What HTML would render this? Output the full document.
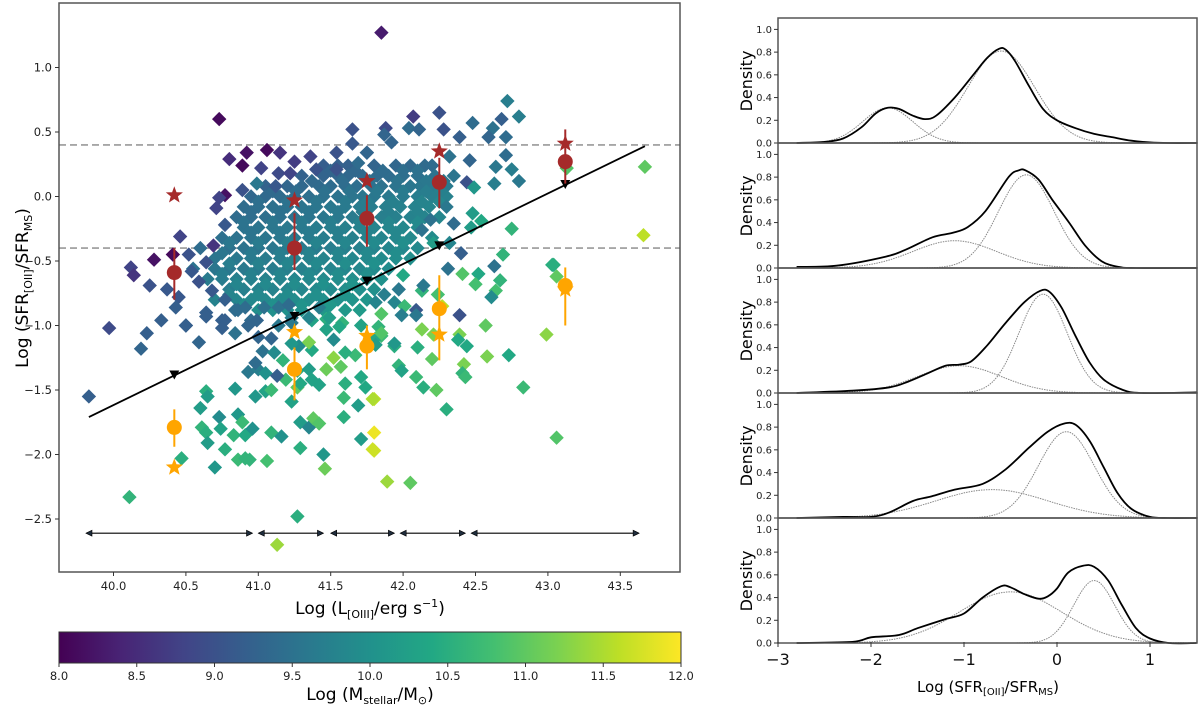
<!DOCTYPE html>
<html><head><meta charset="utf-8"><style>
html,body{margin:0;padding:0;background:#fff;}
svg{display:block;font-family:"DejaVu Sans","Liberation Sans",sans-serif;}
</style></head><body>
<svg id="fig" width="1200" height="705" viewBox="0 0 1200 705" xmlns="http://www.w3.org/2000/svg">
<defs>
<linearGradient id="viridis" x1="0" x2="1" y1="0" y2="0">
<stop offset="0" stop-color="#440154"/><stop offset="0.1" stop-color="#482475"/><stop offset="0.2" stop-color="#414487"/><stop offset="0.3" stop-color="#355f8d"/><stop offset="0.4" stop-color="#2a788e"/><stop offset="0.5" stop-color="#21918c"/><stop offset="0.6" stop-color="#22a884"/><stop offset="0.7" stop-color="#44bf70"/><stop offset="0.8" stop-color="#7ad151"/><stop offset="0.9" stop-color="#bddf26"/><stop offset="1" stop-color="#fde725"/>
</linearGradient>
<clipPath id="mainclip"><rect x="59" y="3" width="621" height="569"/></clipPath>
</defs>
<g id="main"></g>
<g id="right"></g>
</svg>
<script>
// ---------- main scatter data ----------
const scatterPoints = [
[40.73,0.60,8.1],[41.65,0.52,9.0],[40.92,0.34,8.2],[41.06,0.36,8.1],[41.15,0.34,8.6],[40.80,0.29,8.5],[40.89,0.24,8.1],[41.02,0.22,8.8],[41.25,0.27,8.7],[41.36,0.31,8.8],[41.54,0.34,9.0],[41.65,0.41,9.1],[41.75,0.34,9.1],[41.14,0.18,8.9],[41.22,0.18,8.8],[41.40,0.21,9.0],[41.54,0.21,9.0],[41.69,0.26,9.4],[40.99,0.10,9.6],[41.12,0.08,9.1],[40.77,0.01,8.2],[40.73,-0.01,8.8],[40.71,-0.09,8.8],[40.89,0.05,9.0],[40.77,-0.22,9.1],[40.46,-0.31,8.8],[40.41,-0.45,8.1],[40.28,-0.49,8.2],[40.12,-0.55,8.8],[40.14,-0.61,8.6],[40.25,-0.69,9.0],[40.37,-0.72,9.1],[40.54,-0.58,9.1],[40.45,-0.78,9.1],[40.43,-0.86,9.2],[40.33,-0.96,9.2],[39.97,-1.02,8.9],[40.69,-0.38,8.6],[40.64,-0.51,9.0],[40.52,-0.45,9.0],[40.59,-0.66,9.0],[40.68,-0.73,9.1],[40.77,-0.80,9.2],[40.64,-0.90,9.2],[40.75,-0.96,9.2],[40.84,-0.88,9.4],[40.95,-0.96,9.4],[41.37,-0.96,10.3],[41.47,-0.95,10.5],[41.58,-0.98,10.6],[41.23,-0.94,9.7],
[39.83,-1.55,9.2],[40.23,-1.06,9.2],[40.19,-1.18,9.3],[40.50,-1.00,9.2],[40.59,-1.13,9.3],[40.64,-0.93,9.2],
[41.85,1.27,8.3],
[42.72,0.74,9.7],[42.80,0.62,9.7],[42.68,0.60,9.2],[42.25,0.65,9.0],[42.07,0.62,8.7],[42.48,0.57,9.4],[42.62,0.53,9.5],[42.04,0.53,9.4],[41.88,0.53,8.9],[42.28,0.52,9.0],[41.87,0.48,9.3],[42.11,0.52,9.3],[41.92,0.42,9.3],[42.39,0.46,9.2],[42.59,0.46,9.3],[42.71,0.46,9.4],[41.75,0.34,9.3],[42.71,0.32,9.4],[42.32,0.31,9.5],[42.46,0.28,9.3],[42.64,0.23,9.6],[42.75,0.21,9.7],[42.80,0.12,9.6],[42.63,0.10,9.7],[42.44,0.11,9.0],[42.49,0.07,10.1],[43.13,0.22,10.9],[43.67,0.23,11.0],[43.66,-0.30,11.6],[42.75,-0.25,10.6],[42.48,-0.13,10.2],[42.54,-0.19,10.4],[42.35,-0.21,9.4],[42.47,-0.24,10.2],[42.69,-0.45,10.6],[43.03,-0.53,10.5],[42.40,-0.44,9.2],[42.21,-0.36,10.2],[42.32,-0.36,9.8],[42.30,-0.08,9.6],[42.19,-0.18,9.5],[42.13,-0.26,9.5],
[43.04,-0.53,10.5],[43.06,-0.62,11.0],[42.41,-0.60,10.9],[42.52,-0.60,10.4],[42.50,-0.68,10.8],[42.63,-0.54,9.5],[42.67,-0.65,10.6],[42.64,-0.73,10.8],[42.61,-0.78,9.9],[42.31,-0.56,9.5],[42.00,-0.61,10.4],[41.97,-0.72,9.6],[42.13,-0.73,10.6],[42.14,-0.69,9.6],[42.24,-0.76,10.8],[41.87,-0.76,9.7],[41.81,-0.82,9.8],[41.94,-0.82,9.8],[42.01,-0.85,10.7],[41.99,-0.92,9.7],[42.09,-0.88,9.1],[42.09,-0.92,9.6],[42.27,-0.85,11.6],[42.39,-0.92,9.0],[41.85,-0.91,10.9],[42.57,-1.00,11.0],[42.13,-1.03,11.2],[42.21,-1.07,11.2],[42.39,-1.07,11.2],[42.38,-1.11,10.4],[42.44,-1.16,10.4],[41.85,-1.08,10.7],[41.81,-1.10,10.4],[41.81,-1.15,10.2],[41.94,-1.16,10.5],[42.10,-1.17,10.5],[42.20,-1.26,11.0],[42.58,-1.24,11.2],[42.73,-1.23,10.4],[42.42,-1.30,11.2],[41.97,-1.31,10.6],[41.99,-1.35,10.3],[42.41,-1.37,10.6],[42.43,-1.40,10.7],[42.09,-1.40,10.7],[42.14,-1.48,10.5],[42.23,-1.50,11.0],[42.83,-1.48,10.7],[42.99,-1.07,11.3],[41.80,-1.57,11.6],[42.30,-1.65,10.5],[43.06,-1.87,10.9],[41.80,-1.83,11.9],[41.80,-1.97,11.7],[41.89,-2.21,11.4],[42.05,-2.22,11.0],
[41.13,-2.70,11.4],[41.27,-2.48,10.5],[40.11,-2.33,10.6],[40.47,-2.03,10.5],[40.70,-2.10,10.1],[40.77,-1.96,10.5],[40.86,-2.04,10.7],[40.91,-2.03,10.6],[40.94,-2.04,10.6],[41.06,-2.05,10.8],[41.29,-1.95,10.5],[41.45,-2.00,10.1],[41.46,-2.11,11.1],[41.71,-1.88,10.2],[41.79,-1.96,11.7],
[40.60,-1.64,10.2],[40.64,-1.51,10.5],[40.65,-1.55,10.2],[40.84,-1.49,10.1],[40.61,-1.79,10.6],[40.64,-1.83,10.5],[40.65,-1.91,10.2],[40.73,-1.71,9.9],[40.74,-1.80,10.3],[40.83,-1.85,10.6],[40.86,-1.69,10.1],[40.89,-1.75,10.7],[40.91,-1.85,10.4],[40.96,-1.80,10.0],[40.98,-1.55,10.1],[41.09,-1.83,10.6],[41.16,-1.86,10.0],[41.05,-1.51,10.3],[41.09,-1.50,10.7],[41.29,-1.75,10.2],[41.35,-1.79,9.8],[41.38,-1.72,11.0],[41.42,-1.76,10.9],[41.23,-1.59,10.3],[41.27,-1.48,11.0],[41.19,-1.42,10.7],[41.29,-1.45,10.4],[41.42,-1.46,10.3],[41.59,-1.56,10.7],[41.59,-1.71,10.5],[41.69,-1.62,10.2],[41.79,-1.57,11.5],[41.47,-1.34,11.1],[41.57,-1.32,11.0],[41.52,-1.25,11.3],[41.67,-1.23,10.7],[41.71,-1.40,10.4],[41.74,-1.48,10.4],[41.60,-1.45,10.5],
[40.93,-1.36,9.6],[41.00,-1.34,9.7],[41.05,-1.37,10.0],[41.13,-1.39,9.2],[40.98,-1.29,9.4],[41.03,-1.20,9.5],[41.11,-1.21,9.9],[41.17,-1.27,10.6],[41.27,-1.35,10.4],[41.35,-1.34,10.2],[41.37,-1.42,10.3],[41.28,-1.16,9.9],[41.37,-1.19,10.4],[41.35,-1.13,11.2],[41.23,-1.14,10.1],[41.47,-1.03,10.3],[41.52,-1.11,9.9],[41.60,-1.21,10.5],[41.56,-1.01,10.4],[41.71,-1.00,10.3],[41.83,-1.01,10.6],[41.85,-1.06,10.9],[41.94,-1.14,10.1],
[40.50,-1.00,9.2],[40.77,-0.96,9.2],[40.75,-1.02,9.2],[40.84,-1.06,9.5],[40.86,-0.88,9.4],[40.93,-1.00,9.3],[40.99,-0.96,9.3],[40.91,-0.86,9.4],[41.04,-0.86,9.5],[41.14,-0.86,9.5],[41.21,-0.84,9.4],[41.00,-1.09,9.3],[41.09,-1.10,9.3],[41.14,-1.00,9.6],[41.23,-0.98,9.6],[41.35,-0.94,9.8],[41.42,-0.86,9.7],[41.49,-0.94,10.2]
];
// dense core, row by row: [y, mass, x values]
const coreRows = [
[0.24,9.2,[41.45,41.55,41.62,41.8,41.95,42.05,42.15,42.2]],
[0.16,9.3,[41.3,41.45,41.55,41.62,41.72,41.82,41.9,42.0,42.1,42.22,42.35]],
[0.08,9.4,[41.05,41.2,41.3,41.42,41.5,41.6,41.68,41.78,41.85,41.95,42.05,42.12,42.2,42.3]],
[0.0,9.5,[40.95,41.05,41.15,41.25,41.35,41.45,41.55,41.65,41.72,41.8,41.9,42.0,42.1,42.2,42.3]],
[-0.08,9.6,[40.9,41.0,41.1,41.2,41.3,41.4,41.5,41.6,41.7,41.78,41.88,41.98,42.08,42.18]],
[-0.16,9.6,[40.85,40.95,41.05,41.15,41.25,41.35,41.45,41.55,41.65,41.75,41.85,41.95,42.05,42.15,42.25]],
[-0.24,9.7,[40.9,41.0,41.1,41.2,41.3,41.4,41.5,41.6,41.7,41.8,41.9,42.0,42.1]],
[-0.32,9.7,[40.75,40.85,40.95,41.05,41.15,41.25,41.35,41.45,41.55,41.65,41.75,41.85,41.95,42.05,42.2]],
[-0.40,9.7,[40.6,40.8,40.9,41.0,41.1,41.2,41.3,41.4,41.5,41.6,41.7,41.8,41.9,42.0,42.1]],
[-0.48,9.8,[40.7,40.85,40.95,41.05,41.15,41.25,41.35,41.45,41.55,41.65,41.75,41.85,41.95,42.05]],
[-0.56,9.8,[40.55,40.7,40.8,40.9,41.0,41.1,41.2,41.3,41.4,41.5,41.6,41.7,41.8,41.9]],
[-0.64,9.9,[40.65,40.75,40.85,40.95,41.05,41.15,41.25,41.35,41.45,41.55,41.65,41.75,41.85]],
[-0.72,9.9,[40.8,40.9,41.0,41.1,41.2,41.3,41.4,41.5,41.6,41.7,41.8]],
[-0.80,10.0,[40.7,40.85,40.95,41.05,41.15,41.25,41.35,41.45,41.55,41.65,41.75]],
[-0.88,10.1,[41.0,41.1,41.2,41.3,41.45,41.6,41.7]]
];
// interleaved core rows (between the rows above)
const coreRows2 = [
[0.20,9.3,[41.5,41.67,41.86,42.0,42.1]],
[0.12,9.4,[41.37,41.58,41.77,41.96,42.16,42.28]],
[0.04,9.5,[41.1,41.26,41.46,41.63,41.82,42.0,42.16,42.26]],
[-0.04,9.6,[41.0,41.2,41.4,41.6,41.75,41.93,42.13,42.25]],
[-0.12,9.6,[40.95,41.15,41.35,41.55,41.72,41.9,42.1]],
[-0.20,9.7,[40.9,41.1,41.3,41.5,41.7,41.9,42.1]],
[-0.28,9.7,[40.95,41.15,41.35,41.55,41.75,41.95]],
[-0.36,9.8,[40.8,41.0,41.2,41.4,41.6,41.8,42.0]],
[-0.44,9.8,[40.75,40.95,41.15,41.35,41.55,41.75,41.95]],
[-0.52,9.9,[40.8,41.0,41.2,41.4,41.6,41.8]],
[-0.60,9.9,[40.75,40.95,41.15,41.35,41.55,41.75]],
[-0.68,10.0,[40.85,41.05,41.25,41.45,41.65]],
[-0.76,10.0,[40.8,41.0,41.2,41.4,41.6]],
[-0.84,10.1,[40.9,41.1,41.3,41.5]]
];
const binX = [40.42,41.25,41.75,42.25,43.12];
const redMed = [-0.59,-0.40,-0.17,0.11,0.27];
const redLo = [-0.80,-0.57,-0.39,-0.09,0.10];
const redHi = [-0.40,-0.13,0.01,0.30,0.52];
const redStar = [0.01,-0.03,0.12,0.35,0.41];
const orgMed = [-1.79,-1.34,-1.16,-0.87,-0.69];
const orgLo = [-1.94,-1.58,-1.34,-1.27,-1.00];
const orgHi = [-1.65,-1.17,-1.00,-0.61,-0.55];
const orgStar = [-2.10,-1.05,-1.08,-1.07,-0.72];
const lineStart = [39.83,-1.71];
const lineEnd = [43.67,0.39];
const binEdgesLo = [39.81,41.0,41.50,41.98,42.47];
const binEdgesHi = [40.96,41.45,41.94,42.43,43.63];
const xTicks = [40.0,40.5,41.0,41.5,42.0,42.5,43.0,43.5];
const yTicks = [1.0,0.5,0.0,-0.5,-1.0,-1.5,-2.0,-2.5];
const cbTicks = [8.0,8.5,9.0,9.5,10.0,10.5,11.0,11.5,12.0];

// ---------- density panel data ----------
const kde1 = [[-2.8,0],[-2.5,0.01],[-2.3,0.04],[-2.1,0.14],[-1.95,0.26],[-1.82,0.31],[-1.7,0.30],[-1.55,0.24],[-1.42,0.21],[-1.3,0.24],[-1.1,0.40],[-0.9,0.60],[-0.75,0.75],[-0.62,0.83],[-0.55,0.82],[-0.45,0.72],[-0.3,0.50],[-0.15,0.30],[0,0.20],[0.2,0.13],[0.4,0.08],[0.6,0.05],[0.8,0.02],[1.0,0.005],[1.2,0],[1.5,0]];
const kde2 = [[-2.8,0.01],[-2.37,0.02],[-1.84,0.1],[-1.63,0.16],[-1.34,0.27],[-1.12,0.31],[-0.96,0.36],[-0.77,0.5],[-0.52,0.8],[-0.41,0.86],[-0.34,0.86],[-0.2,0.78],[-0.05,0.6],[0.13,0.4],[0.3,0.2],[0.48,0.06],[0.66,0.01],[0.85,0],[1.5,0]];
const kde3 = [[-2.8,0],[-2.2,0.02],[-1.8,0.05],[-1.6,0.1],[-1.4,0.17],[-1.2,0.24],[-1.05,0.25],[-0.92,0.28],[-0.75,0.42],[-0.55,0.62],[-0.35,0.8],[-0.18,0.9],[-0.08,0.89],[0.05,0.75],[0.2,0.5],[0.35,0.27],[0.5,0.12],[0.7,0.03],[0.9,0],[1.5,0.005]];
const kde4 = [[-2.8,0],[-2.3,0.01],[-2.0,0.01],[-1.8,0.05],[-1.55,0.15],[-1.35,0.19],[-1.1,0.25],[-0.8,0.3],[-0.55,0.43],[-0.3,0.62],[-0.1,0.76],[0.07,0.83],[0.2,0.82],[0.35,0.68],[0.5,0.45],[0.65,0.22],[0.8,0.08],[1.0,0.01],[1.2,0],[1.5,0]];
const kde5 = [[-2.8,0],[-2.2,0.01],[-2.0,0.05],[-1.7,0.07],[-1.5,0.13],[-1.2,0.21],[-1.0,0.26],[-0.8,0.4],[-0.6,0.5],[-0.5,0.49],[-0.35,0.43],[-0.2,0.39],[-0.1,0.41],[0,0.48],[0.12,0.62],[0.28,0.68],[0.4,0.67],[0.55,0.55],[0.7,0.33],[0.85,0.13],[1.0,0.04],[1.2,0],[1.5,0]];
const compAmp = [[0.31,0.81],[0.24,0.82],[0.24,0.87],[0.25,0.76],[0.45,0.55]];
const compMu = [[-1.82,-0.6],[-1.1,-0.33],[-1.05,-0.15],[-0.7,0.1],[-0.5,0.4]];
const compSig = [[0.27,0.36],[0.45,0.3],[0.45,0.26],[0.6,0.3],[0.55,0.22]];
const densTicks = [0.0,0.2,0.4,0.6,0.8,1.0];
const rxTicks = [-3,-2,-1,0,1];

const NS = "http://www.w3.org/2000/svg";
function mk(tag, attrs, parent){const e=document.createElementNS(NS,tag);for(const k in attrs)e.setAttribute(k,attrs[k]);parent.appendChild(e);return e;}
const X = v => 113.5 + (v-40)*144.8;
const Y = v => 196.5 - v*129;
const viridis = ["#440154","#482475","#414487","#355f8d","#2a788e","#21918c","#22a884","#44bf70","#7ad151","#bddf26","#fde725"];
function hex(c){return [parseInt(c.slice(1,3),16),parseInt(c.slice(3,5),16),parseInt(c.slice(5,7),16)];}
function cmap(m){let t=Math.max(0,Math.min(1,(m-8)/4))*10;const i=Math.min(9,Math.floor(t));const f=t-i;const a=hex(viridis[i]),b=hex(viridis[i+1]);return "rgb("+a.map((v,k)=>Math.round(v+(b[k]-v)*f)).join(",")+")";}

const main = document.getElementById('main');
const plot = mk('g',{'clip-path':'url(#mainclip)'},main);


[0.4,-0.4].forEach(v=>{const l=mk('line',{x1:59,x2:680,y1:Y(v),y2:Y(v),stroke:'#999',"stroke-width":1.6,"stroke-dasharray":"7,4"},plot);

});
function diamond(x,y,m){const px=X(x),py=Y(y),r=7.2;const d=mk('polygon',{points:`${px},${py-r} ${px+r},${py} ${px},${py+r} ${px-r},${py}`,fill:cmap(m)},plot);

}
coreRows.forEach(r=>r[2].forEach(x=>diamond(x,r[0],r[1]+(x-41.5)*0.3)));
coreRows2.forEach(r=>r[2].forEach(x=>diamond(x,r[0],r[1]+(x-41.5)*0.3)));
scatterPoints.forEach(p=>diamond(p[0],p[1],p[2]));
const rl=mk('line',{x1:X(lineStart[0]),y1:Y(lineStart[1]),x2:X(lineEnd[0]),y2:Y(lineEnd[1]),stroke:'#000',"stroke-width":1.8},plot);


const slope=(lineEnd[1]-lineStart[1])/(lineEnd[0]-lineStart[0]);
binX.forEach(x=>{const y=lineStart[1]+slope*(x-lineStart[0]);const px=X(x),py=Y(y);const t=mk('polygon',{points:`${px-5},${py-5} ${px+5},${py-5} ${px},${py+4}`,fill:'#000'},plot);

});
binEdgesLo.forEach((lo,i)=>{const hi=binEdgesHi[i],py=Y(-2.61);const g=mk('g',{},plot);


mk('line',{x1:X(lo)+2,x2:X(hi)-2,y1:py,y2:py,stroke:'#000',"stroke-width":1.2},g);
mk('polygon',{points:`${X(lo)},${py} ${X(lo)+6},${py-3} ${X(lo)+6},${py+3}`,fill:'#1f2d3d',stroke:'#000',"stroke-width":0.6},g);
mk('polygon',{points:`${X(hi)},${py} ${X(hi)-6},${py-3} ${X(hi)-6},${py+3}`,fill:'#1f2d3d',stroke:'#000',"stroke-width":0.6},g);});
function star(px,py,r,col,name){let pts=[];for(let k=0;k<10;k++){const a=-Math.PI/2+k*Math.PI/5;const rr=k%2?r*0.42:r;pts.push((px+rr*Math.cos(a)).toFixed(1)+","+(py+rr*Math.sin(a)).toFixed(1));}
const s=mk('polygon',{points:pts.join(' '),fill:col},plot);

}
function errpt(x,med,lo,hi,col,name){const l=mk('line',{x1:X(x),x2:X(x),y1:Y(lo),y2:Y(hi),stroke:col,"stroke-width":2},plot);


const c=mk('circle',{cx:X(x),cy:Y(med),r:7.5,fill:col},plot);

}
binX.forEach((x,i)=>{errpt(x,redMed[i],redLo[i],redHi[i],'#a52a2a','red');star(X(x),Y(redStar[i]),9,'#a52a2a','red-star');
errpt(x,orgMed[i],orgLo[i],orgHi[i],'#ffa500','orange');star(X(x),Y(orgStar[i]),9,'#ffa500','orange-star');});
const fr=mk('rect',{x:59,y:3,width:621,height:569,fill:'none',stroke:'#555',"stroke-width":1.5},main);


xTicks.forEach(v=>{mk('line',{x1:X(v),x2:X(v),y1:572,y2:576,stroke:'#333'},main);const t=mk('text',{x:X(v),y:590,"font-size":11.5,"text-anchor":"middle",fill:'#222'},main);t.textContent=v.toFixed(1);

});
yTicks.forEach(v=>{mk('line',{x1:55,x2:59,y1:Y(v),y2:Y(v),stroke:'#333'},main);const t=mk('text',{x:52,y:Y(v)+4,"font-size":11.5,"text-anchor":"end",fill:'#222'},main);t.textContent=v.toFixed(1).replace('-','\u2212');

});
const xl=mk('text',{x:370,y:614,"font-size":17,"text-anchor":"middle"},main);
xl.innerHTML='Log (L<tspan font-size="11" dy="4">[OIII]</tspan><tspan dy="-4">/erg s</tspan><tspan font-size="11" dy="-7">\u22121</tspan><tspan dy="7">)</tspan>';


const yl=mk('text',{x:0,y:0,"font-size":17,"text-anchor":"middle",transform:"translate(28,288) rotate(-90)"},main);
yl.innerHTML='Log (SFR<tspan font-size="11" dy="4">[OII]</tspan><tspan dy="-4">/SFR</tspan><tspan font-size="11" dy="4">MS</tspan><tspan dy="-4">)</tspan>';


const CB = v => 59 + (v-8)/4*622;
const cb=mk('rect',{x:59,y:632,width:622,height:31,fill:'url(#viridis)',stroke:'#333',"stroke-width":1},main);


cbTicks.forEach(v=>{mk('line',{x1:CB(v),x2:CB(v),y1:663,y2:667,stroke:'#333'},main);const t=mk('text',{x:CB(v),y:680,"font-size":11.5,"text-anchor":"middle",fill:'#222'},main);t.textContent=v.toFixed(1);

});
const cl=mk('text',{x:370,y:700,"font-size":17,"text-anchor":"middle"},main);
cl.innerHTML='Log (M<tspan font-size="11" dy="4">stellar</tspan><tspan dy="-4">/M</tspan><tspan font-size="11" dy="4">\u2299</tspan><tspan dy="-4">)</tspan>';



// ---------- right density panels ----------
const right=document.getElementById('right');
const PX = v => 778 + (v+3)*93;
function smoothPath(pts){let d=`M${pts[0][0].toFixed(1)},${pts[0][1].toFixed(1)}`;for(let i=0;i<pts.length-1;i++){const p0=pts[Math.max(0,i-1)],p1=pts[i],p2=pts[i+1],p3=pts[Math.min(pts.length-1,i+2)];
const c1=[p1[0]+(p2[0]-p0[0])/6,p1[1]+(p2[1]-p0[1])/6],c2=[p2[0]-(p3[0]-p1[0])/6,p2[1]-(p3[1]-p1[1])/6];
d+=` C${c1[0].toFixed(1)},${c1[1].toFixed(1)} ${c2[0].toFixed(1)},${c2[1].toFixed(1)} ${p2[0].toFixed(1)},${p2[1].toFixed(1)}`;}return d;}
const kdes=[kde1,kde2,kde3,kde4,kde5];
kdes.forEach((kde,i)=>{const bot=143+125*i,top=bot-125;const PY=v=>bot-v*113.6;
const g=mk('g',{},right);


for(let c=0;c<2;c++){let pts=[];for(let x=-2.8;x<=1.5001;x+=0.02){const v=compAmp[i][c]*Math.exp(-0.5*Math.pow((x-compMu[i][c])/compSig[i][c],2));pts.push(PX(x).toFixed(1)+","+PY(v).toFixed(1));}
const p=mk('polyline',{points:pts.join(' '),fill:'none',stroke:'#888',"stroke-width":1,"stroke-dasharray":"1.5,1"},g);

}
const k=mk('path',{d:smoothPath(kde.map(p=>[PX(p[0]),Math.min(bot,PY(p[1]))])),fill:'none',stroke:'#000',"stroke-width":1.8,"stroke-linejoin":"round"},g);


mk('rect',{x:778,y:top,width:419,height:125,fill:'none',stroke:'#555',"stroke-width":1.5},g);
densTicks.forEach(v=>{mk('line',{x1:774,x2:778,y1:PY(v),y2:PY(v),stroke:'#333'},g);const t=mk('text',{x:772,y:PY(v)+3.5,"font-size":10,"text-anchor":"end",fill:'#222'},g);t.textContent=v.toFixed(1);

});
const dl=mk('text',{x:0,y:0,"font-size":16,"text-anchor":"middle",transform:`translate(752,${bot-62}) rotate(-90)`},g);dl.textContent='Density';

});
rxTicks.forEach(v=>{mk('line',{x1:PX(v),x2:PX(v),y1:642,y2:647,stroke:'#333'},right);const t=mk('text',{x:PX(v),y:665,"font-size":16,"text-anchor":"middle",fill:'#111'},right);t.textContent=String(v).replace('-','\u2212');

});
const rl2=mk('text',{x:988,y:692,"font-size":15,"text-anchor":"middle"},right);
rl2.innerHTML='Log (SFR<tspan font-size="10" dy="3">[OII]</tspan><tspan dy="-3">/SFR</tspan><tspan font-size="10" dy="3">MS</tspan><tspan dy="-3">)</tspan>';


</script>
</body></html>
